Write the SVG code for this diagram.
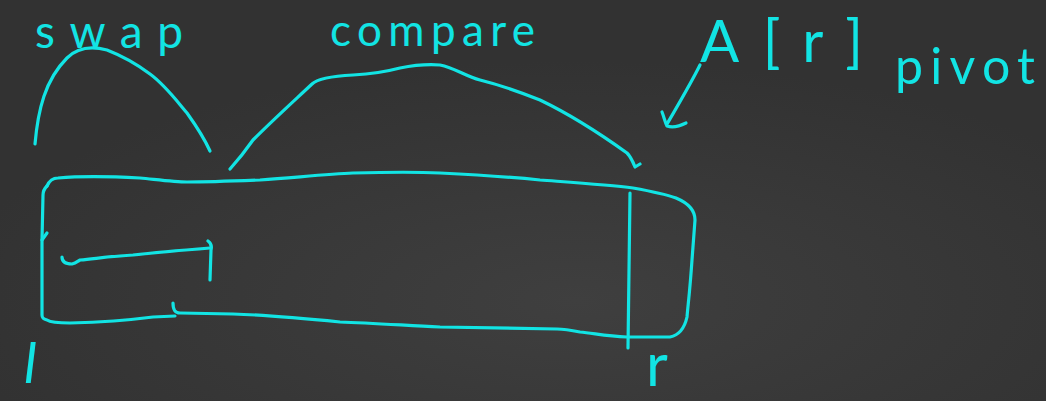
<svg xmlns="http://www.w3.org/2000/svg" width="1046" height="401" viewBox="0 0 1046 401">
  <defs>
    <radialGradient id="chalk" cx="0.55" cy="0.75" r="0.6">
      <stop offset="0" stop-color="#3f3f3f"/>
      <stop offset="1" stop-color="#323232"/>
    </radialGradient>
  </defs>
  <style>
    .ink { fill: none; stroke: #12e4e4; stroke-width: 3.2; stroke-linecap: round; stroke-linejoin: round; }
    .hand { fill: #12e4e4; font-family: Lato, "Open Sans", sans-serif; font-weight: 400; }
  </style>
  <rect x="0" y="0" width="1046" height="401" fill="url(#chalk)"/>

  <g id="swap-label">
    <text class="hand" x="35" y="48" font-size="46" textLength="148" lengthAdjust="spacing">swap</text>
  </g>
  <g id="compare-label">
    <text class="hand" x="330" y="46" font-size="44" textLength="205" lengthAdjust="spacing">compare</text>
  </g>
  <g id="pivot-label">
    <text class="hand" x="700" y="62" font-size="58" textLength="163" lengthAdjust="spacing">A[r]</text>
    <text class="hand" x="895" y="84" font-size="50" textLength="140" lengthAdjust="spacing">pivot</text>
  </g>

  <g id="array-box">
    <path class="ink" d="M47,186 C50,179 54,178 58,178 C70,177 100,176 140,178 C160,180 175,182 187,182 C210,182 235,181 260,180 C300,177 330,174 353,173 C390,172 420,172 440,173 C480,175 510,177 540,180 C580,183 610,185 633,188 C650,191 665,194 676,198 C688,203 695,210 695,220 L692,260 C690,290 688,305 687,317 C685,326 680,335 670,337 L627,337 C605,336 593,333 580,332 C570,330 563,329 557,329 L440,327 C400,325 370,323 340,322 C300,318 270,315 233,314 L180,313 C175,313 173,310 173,303"/>
    <path class="ink" d="M175,316 L153,317 C130,320 110,322 70,323 C58,323 50,322 47,320 C43,319 42,318 42,315 L42,240 L43,195 C43,191 45,188 47,186"/>
    <path class="ink" d="M42,240 L47,233"/>
    <path class="ink" d="M630,193 L628,348"/>
  </g>

  <g id="label-l">
    <text class="hand" x="24" y="383" font-size="56" font-family="Liberation Serif, serif" font-style="italic">l</text>
  </g>
  <g id="label-r">
    <text class="hand" x="646" y="386" font-size="60">r</text>
  </g>

  <g id="connectors">
    <path class="ink" d="M35,144 C38,110 45,80 67,58 C76,49 88,45 107,50 C125,57 138,65 150,74 C165,85 176,100 187,113 C197,127 205,140 210,151"/>
    <path class="ink" d="M230,169 C238,160 246,150 253,140 C275,118 295,100 312,84 C318,78 335,76 353,75 C370,74 385,72 400,68 C415,65 427,64 440,65 C455,68 465,76 480,80 C500,85 520,92 540,100 C565,112 595,130 627,153 C631,157 633,162 635,167 L640,164"/>
    <path class="ink" d="M700,65 C690,85 678,105 667,124"/>
    <path class="ink" d="M662,112 C664,117 665,122 667,126 C673,128 680,126 686,123"/>
    <path class="ink" d="M62,257 C62,262 66,264 72,264 C76,263 78,261 80,260 C100,258 115,256 133,255 C160,252 185,250 210,248"/>
    <path class="ink" d="M208,241 C211,243 212,246 211,250 L210,280"/>
  </g>
</svg>
